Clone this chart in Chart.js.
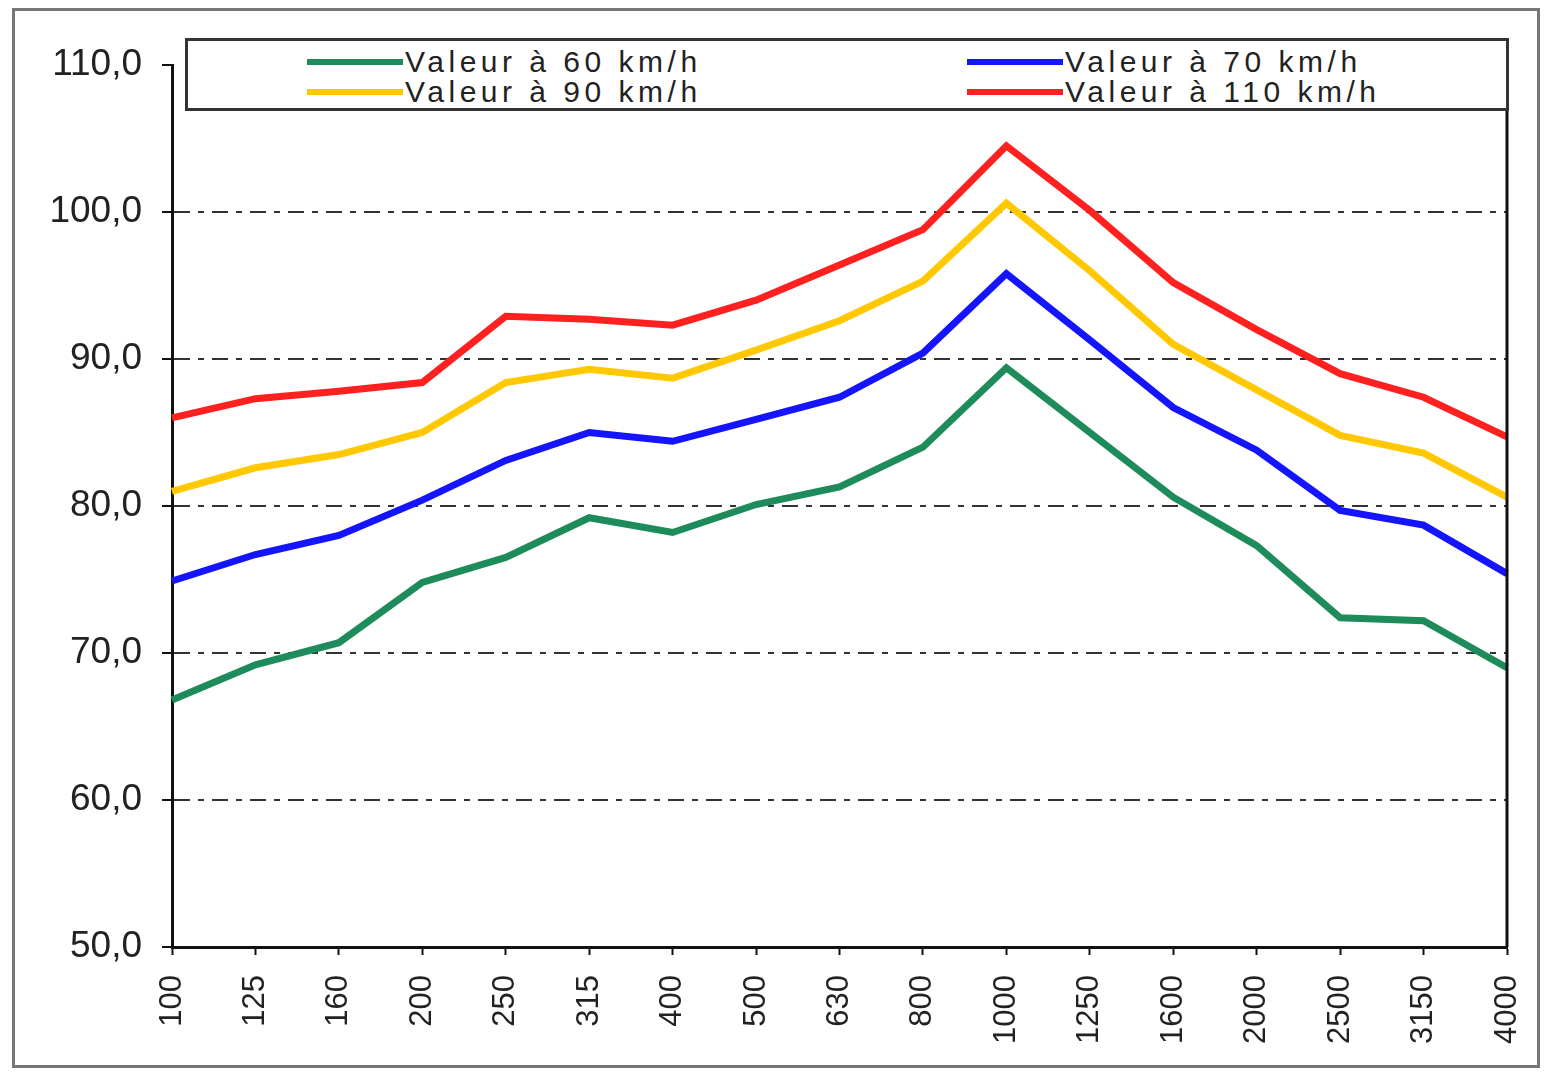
<!DOCTYPE html>
<html lang="fr">
<head>
<meta charset="UTF-8">
<title>Valeurs par vitesse</title>
<script src="https://cdn.jsdelivr.net/npm/chart.js"></script>
<style>
    body {
        margin: 0;
        background: #fff;
        font-family: "Liberation Sans", Arial, sans-serif;
    }
    #wrap {
        position: relative;
        width: 1546px;
        height: 1075px;
        overflow: hidden;
    }
    #frame {
        position: absolute;
        left: 12px;
        top: 8px;
        width: 1528px;
        height: 1060px;
        border: 3px solid #777;
        box-sizing: border-box;
    }
    canvas {
        position: absolute;
        left: 0;
        top: 0;
    }
    #legend {
        position: absolute;
        left: 185px;
        top: 38px;
        width: 1324px;
        height: 73px;
        border: 3px solid #333;
        background: #fff;
        display: grid;
        grid-template-columns: 660px 540px;
        grid-template-rows: 30px 30px;
        padding: 6px 0 0 119px;
        box-sizing: border-box;
    }
    .item {
        display: flex;
        align-items: center;
        font-size: 30px;
        letter-spacing: 4.5px;
        color: #222;
        line-height: 30px;
        white-space: nowrap;
    }
    .item span.swatch {
        display: inline-block;
        width: 96px;
        height: 6px;
        margin-right: 2px;
    }
</style>
</head>
<body>
<div id="wrap">
    <div id="frame"></div>
    <canvas id="chart" width="1546" height="1075"></canvas>
    <div id="legend"></div>
</div>

<script>
    // frequency bands (Hz)
    const frequencies = ["100", "125", "160", "200", "250", "315", "400", "500", "630",
        "800", "1000", "1250", "1600", "2000", "2500", "3150", "4000"];

    const seriesNames = ["Valeur à 60 km/h", "Valeur à 70 km/h", "Valeur à 90 km/h", "Valeur à 110 km/h"];
    const seriesColors = ["#1e8c5a", "#1414ff", "#ffc800", "#ff2020"];

    const values60 = [66.8, 69.2, 70.7, 74.8, 76.5, 79.2, 78.2, 80.1, 81.3, 84.0, 89.4, 85.0, 80.6, 77.3, 72.4, 72.2, 69.0];
    const values70 = [74.9, 76.7, 78.0, 80.4, 83.1, 85.0, 84.4, 85.9, 87.4, 90.4, 95.8, 91.3, 86.7, 83.8, 79.7, 78.7, 75.4];
    const values90 = [81.0, 82.6, 83.5, 85.0, 88.4, 89.3, 88.7, 90.6, 92.6, 95.3, 100.6, 96.0, 91.0, 87.9, 84.8, 83.6, 80.6];
    const values110 = [86.0, 87.3, 87.8, 88.4, 92.9, 92.7, 92.3, 94.0, 96.4, 98.8, 104.5, 100.1, 95.2, 92.0, 89.0, 87.4, 84.7];

    const seriesValues = [values60, values70, values90, values110];

    const yMin = 50, yMax = 110, yStep = 10;

    const datasets = seriesNames.map((name, i) => ({
        label: name,
        data: seriesValues[i],
        borderColor: seriesColors[i],
        backgroundColor: seriesColors[i],
        borderWidth: 7,
        pointRadius: 0,
        tension: 0,
        fill: false
    }));

    // right border of the plot area
    const rightBorder = {
        id: "rightBorder",
        afterDatasetsDraw(chart) {
            const a = chart.chartArea;
            const c = chart.ctx;
            c.save();
            c.strokeStyle = "#111";
            c.lineWidth = 3;
            c.beginPath();
            c.moveTo(a.right, a.top);
            c.lineTo(a.right, a.bottom);
            c.stroke();
            c.restore();
        }
    };

    const chart = new Chart(document.getElementById("chart"), {
        type: "line",
        data: { labels: frequencies, datasets: datasets },
        options: {
            responsive: false,
            animation: false,
            layout: { padding: { top: 65, right: 39, left: 0, bottom: 0 } },
            plugins: {
                legend: { display: false },
                tooltip: { enabled: false }
            },
            scales: {
                x: {
                    offset: false,
                    afterFit(scale) {
                        scale.height = 128;
                        scale.paddingLeft = 0;
                        scale.paddingRight = 0;
                    },
                    grid: {
                        display: true,
                        drawOnChartArea: false,
                        drawTicks: true,
                        tickLength: 8,
                        tickColor: "#111",
                        tickWidth: 2
                    },
                    border: { display: true, color: "#111", width: 3 },
                    ticks: {
                        autoSkip: false,
                        minRotation: 90,
                        maxRotation: 90,
                        padding: 20,
                        color: "#222",
                        font: { family: "'Liberation Sans', Arial, sans-serif", size: 31 }
                    }
                },
                y: {
                    min: yMin,
                    max: yMax,
                    afterFit(scale) { scale.width = 172; },
                    grid: {
                        color: (ctx) => (ctx.tick && (ctx.tick.value === yMin || ctx.tick.value === yMax)) ? "rgba(0,0,0,0)" : "#333",
                        lineWidth: 2,
                        tickLength: 10,
                        tickColor: "#111",
                        tickWidth: 2,
                        tickBorderDash: []
                    },
                    border: { display: true, color: "#111", width: 3, dash: [16, 8, 6, 8] },
                    ticks: {
                        stepSize: yStep,
                        padding: 20,
                        color: "#222",
                        font: { family: "'Liberation Sans', Arial, sans-serif", size: 37 },
                        callback: (v) => Number(v).toFixed(1).replace(".", ",")
                    }
                }
            }
        },
        plugins: [rightBorder]
    });

    // legend box drawn over the top of the plot, built from the datasets
    const legend = document.getElementById("legend");
    chart.data.datasets.forEach((ds) => {
        const item = document.createElement("div");
        item.className = "item";
        const sw = document.createElement("span");
        sw.className = "swatch";
        sw.style.background = ds.borderColor;
        item.appendChild(sw);
        item.appendChild(document.createTextNode(ds.label));
        legend.appendChild(item);
    });
</script>
</body>
</html>
